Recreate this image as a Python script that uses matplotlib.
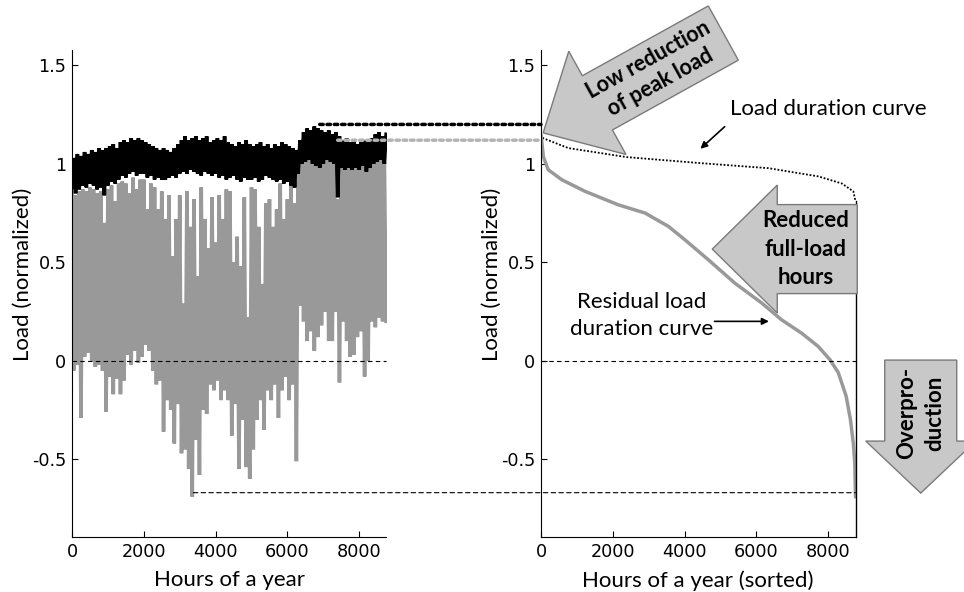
import numpy as np
import matplotlib
matplotlib.use("Agg")
import matplotlib.pyplot as plt
from matplotlib.patches import Polygon, ConnectionPatch

# =====================================================
# DATA
# =====================================================

YEAR_END = 8760
HOUR_BINS = np.arange(0, YEAR_END, 100)  # start hour of each 100 h bin

# hourly load, envelope per 100 h bin (normalized)
LOAD_HI = [1.03, 1.05, 1.04, 1.06, 1.05, 1.07, 1.06, 1.08, 1.07, 1.08,
           1.09, 1.10, 1.08, 1.11, 1.12, 1.11, 1.13, 1.12, 1.13, 1.12,
           1.11, 1.10, 1.09, 1.08, 1.07, 1.08, 1.07, 1.06, 1.08, 1.10,
           1.12, 1.14, 1.12, 1.13, 1.14, 1.12, 1.13, 1.14, 1.11, 1.12,
           1.13, 1.12, 1.14, 1.11, 1.10, 1.09, 1.11, 1.10, 1.12, 1.10,
           1.09, 1.10, 1.11, 1.09, 1.10, 1.08, 1.10, 1.09, 1.11, 1.10,
           1.09, 1.08, 1.07, 1.12, 1.16, 1.18, 1.17, 1.19, 1.18, 1.17,
           1.16, 1.17, 1.15, 1.16, 1.14, 1.12, 1.13, 1.11, 1.12, 1.10,
           1.11, 1.12, 1.11, 1.13, 1.15, 1.16, 1.14, 1.15]
LOAD_LO = [0.88, 0.85, 0.87, 0.89, 0.88, 0.90, 0.89, 0.87, 0.88, 0.84,
           0.89, 0.91, 0.90, 0.92, 0.94, 0.93, 0.95, 0.96, 0.94, 0.95,
           0.95, 0.93, 0.94, 0.92, 0.93, 0.92, 0.92, 0.93, 0.94, 0.93,
           0.95, 0.96, 0.95, 0.97, 0.96, 0.95, 0.94, 0.96, 0.95, 0.94,
           0.95, 0.93, 0.94, 0.92, 0.93, 0.94, 0.92, 0.91, 0.93, 0.92,
           0.92, 0.93, 0.91, 0.92, 0.94, 0.93, 0.92, 0.91, 0.92, 0.90,
           0.91, 0.89, 0.88, 0.95, 1.00, 1.01, 1.02, 1.00, 0.99, 0.98,
           1.00, 1.02, 1.01, 1.00, 0.83, 0.98, 0.97, 0.98, 0.97, 0.98,
           0.97, 0.99, 0.96, 0.98, 1.00, 1.01, 1.02, 1.00]

# hourly residual load, envelope per 100 h bin
RES_HI = [0.86, 0.84, 0.86, 0.87, 0.86, 0.88, 0.87, 0.85, 0.86, 0.70,
          0.87, 0.89, 0.81, 0.90, 0.91, 0.90, 0.85, 0.93, 0.87, 0.92,
          0.92, 0.77, 0.90, 0.88, 0.77, 0.86, 0.72, 0.84, 0.53, 0.72,
          0.84, 0.29, 0.86, 0.68, 0.82, 0.43, 0.88, 0.72, 0.57, 0.83,
          0.60, 0.84, 0.72, 0.87, 0.86, 0.50, 0.63, 0.48, 0.83, 0.22,
          0.88, 0.87, 0.68, 0.39, 0.80, 0.82, 0.68, 0.77, 0.90, 0.72,
          0.82, 0.90, 0.80, 1.00, 1.05, 1.06, 1.05, 1.04, 1.03, 1.02,
          1.03, 1.03, 1.02, 1.03, 0.82, 1.00, 1.00, 1.01, 1.00, 1.00,
          1.00, 1.00, 1.00, 1.02, 1.04, 1.05, 1.05, 1.04]
RES_LO = [-0.05, -0.02, -0.29, 0.02, 0.04, 0.00, -0.03, -0.02, -0.05, -0.26,
          -0.08, -0.17, -0.09, -0.17, -0.10, 0.03, -0.02, 0.05, -0.01, 0.02,
          0.08, 0.05, -0.05, -0.12, -0.10, -0.36, -0.20, -0.25, -0.42, -0.22,
          -0.47, -0.45, -0.55, -0.69, -0.40, -0.58, -0.25, -0.27, -0.12, -0.15,
          -0.10, -0.20, -0.15, -0.20, -0.38, -0.22, -0.55, -0.30, -0.54, -0.60,
          -0.45, -0.30, -0.20, -0.35, -0.15, -0.20, -0.12, -0.29, -0.15, -0.08,
          -0.20, -0.12, -0.51, 0.28, 0.20, 0.10, 0.15, 0.05, 0.12, 0.18,
          0.25, 0.10, 0.10, 0.25, -0.11, 0.20, 0.10, 0.02, 0.03, 0.12,
          0.15, -0.08, 0.00, 0.20, 0.17, 0.22, 0.20, 0.20]

# sorted curves (right panel)
LDC_HOURS = [0, 60, 760, 2390, 4480, 6330, 7730, 8380, 8700, 8760]
LDC_VALUES = [1.15, 1.13, 1.08, 1.034, 1.003, 0.978, 0.936, 0.90, 0.86, 0.81]

RLDC_HOURS = [0, 18, 65, 200, 580, 1230, 2150, 2900, 3550, 4010, 4660, 5400,
              6150, 6700, 7260, 7720, 8050, 8280, 8500, 8620, 8700, 8740, 8760]
RLDC_VALUES = [1.14, 1.12, 1.037, 0.97, 0.919, 0.86, 0.792, 0.75, 0.682, 0.614, 0.513, 0.394,
               0.293, 0.208, 0.14, 0.073, 0.005, -0.06, -0.18, -0.30, -0.42, -0.52, -0.69]

PEAK_LOAD = 1.2
PEAK_LOAD_HOUR = 6900
PEAK_RESIDUAL = 1.12
PEAK_RESIDUAL_HOUR = 7400
MIN_RESIDUAL = -0.67
MIN_RESIDUAL_HOUR = 3380

# =====================================================
# STYLE
# =====================================================

W, H = 964, 592
TEXT_FONT = ["Lato", "DejaVu Sans"]
GRAY = "#999999"
ARROW_FC = "#c8c8c8"
ARROW_EC = "#7a7a7a"

plt.rcParams["font.family"] = ["DejaVu Sans"]

fig = plt.figure(figsize=(W / 100, H / 100), dpi=100)
ax1 = fig.add_axes([72 / W, 55 / H, 314.5 / W, 487 / H])
ax2 = fig.add_axes([541 / W, 55 / H, 314.5 / W, 487 / H])

for ax, xlab in [(ax1, "Hours of a year"), (ax2, "Hours of a year (sorted)")]:
    ax.set_xlim(0, YEAR_END)
    ax.set_ylim(-0.895, 1.578)
    ax.spines["top"].set_visible(False)
    ax.spines["right"].set_visible(False)
    ax.set_xticks([0, 2000, 4000, 6000, 8000])
    ax.set_yticks([-0.5, 0, 0.5, 1, 1.5])
    ax.set_yticklabels(["-0.5", "0", "0.5", "1", "1.5"])
    ax.tick_params(direction="in", length=4, width=0.8, labelsize=12.7, pad=4)
    ax.set_xlabel(xlab, family=TEXT_FONT, fontsize=16)
    ax.set_ylabel("Load (normalized)", family=TEXT_FONT, fontsize=16)
    ax.xaxis.set_label_coords(0.5, -0.068)
    ax.yaxis.set_label_coords(-0.125, 0.54)
    ax.plot([0, YEAR_END], [0, 0], color="k", lw=0.8, ls=(0, (4, 3)), zorder=5)

# =====================================================
# LEFT: hourly load and residual load (zig-zag between bin extremes)
# =====================================================

zig_x = np.column_stack([HOUR_BINS, HOUR_BINS + 50]).ravel()
ax1.plot(zig_x, np.column_stack([RES_HI, RES_LO]).ravel(), color=GRAY, lw=2.6,
         solid_joinstyle="miter")
ax1.plot(zig_x, np.column_stack([LOAD_LO, LOAD_HI]).ravel(), color="k", lw=2.6,
         solid_joinstyle="miter")

# =====================================================
# RIGHT: duration curves
# =====================================================

ax2.plot(LDC_HOURS, LDC_VALUES, color="k", ls=(0, (1, 1)), lw=1.3)
ax2.plot(RLDC_HOURS, RLDC_VALUES, color=GRAY, lw=2.5)
ax2.plot([YEAR_END, YEAR_END], [-0.895, LDC_VALUES[-1]], color="k", lw=1.0, clip_on=False)

# lines linking both panels
links = [
    ((PEAK_LOAD_HOUR, PEAK_LOAD), (0, PEAK_LOAD), "k", (0, (1, 1.1)), 2.5),
    ((PEAK_RESIDUAL_HOUR, PEAK_RESIDUAL), (0, PEAK_RESIDUAL), "#b4b4b4", (0, (1, 1.1)), 2.5),
    ((MIN_RESIDUAL_HOUR, MIN_RESIDUAL), (YEAR_END, MIN_RESIDUAL), "k", (0, (4, 3)), 0.8),
]
for a, b, col, ls, lw in links:
    con = ConnectionPatch(xyA=a, coordsA=ax1.transData, xyB=b, coordsB=ax2.transData,
                          color=col, ls=ls, lw=lw)
    fig.add_artist(con)


# =====================================================
# BLOCK ARROWS
# =====================================================

def block_arrow(ax, tip, angle, length, body_w, head_w, head_len, text, text_off, rot,
                fs=16, spacing=1.45):
    t = np.array(ax.transData.transform(tip))
    a = np.deg2rad(angle)
    u = np.array([np.cos(a), np.sin(a)])
    n = np.array([-u[1], u[0]])
    pts = [t,
           t + head_len * u + head_w / 2 * n,
           t + head_len * u + body_w / 2 * n,
           t + length * u + body_w / 2 * n,
           t + length * u - body_w / 2 * n,
           t + head_len * u - body_w / 2 * n,
           t + head_len * u - head_w / 2 * n]
    pts = np.array(pts) / [W, H]
    fig.add_artist(Polygon(pts, closed=True, transform=fig.transFigure,
                           fc=ARROW_FC, ec=ARROW_EC, lw=1.0, zorder=2))
    c = (t + text_off * u) / [W, H]
    fig.text(c[0], c[1], text, rotation=rot, ha="center", va="center",
             rotation_mode="anchor", family=TEXT_FONT, fontweight="bold",
             fontsize=fs, linespacing=spacing, zorder=3)


block_arrow(ax2, (60, 1.157), 29, 206, 62, 118, 62,
            "Low reduction\nof peak load", 127, 29, fs=15.5, spacing=1.3)
block_arrow(ax2, (4770, 0.567), 0, 145, 89, 128, 65,
            "Reduced\nfull-load\nhours", 93, 0)
block_arrow(ax2, (10577, -0.672), 90, 133, 72, 110, 52,
            "Overpro-\nduction", 80, 90)

# small annotations
ax2.annotate("", xy=(4382, 1.067), xytext=(5173, 1.198),
             arrowprops=dict(arrowstyle="-|>", color="k", lw=1.2, mutation_scale=10))
ax2.text(8000, 1.28, "Load duration curve", family=TEXT_FONT, fontsize=16,
         ha="center", va="center", clip_on=False)
ax2.annotate("", xy=(6426, 0.2), xytext=(4755, 0.2),
             arrowprops=dict(arrowstyle="-|>", color="k", lw=1.2, mutation_scale=10))
ax2.text(2800, 0.23, "Residual load\nduration curve", family=TEXT_FONT, fontsize=16,
         ha="center", va="center", linespacing=1.45)

fig.savefig("out.png", dpi=100)
